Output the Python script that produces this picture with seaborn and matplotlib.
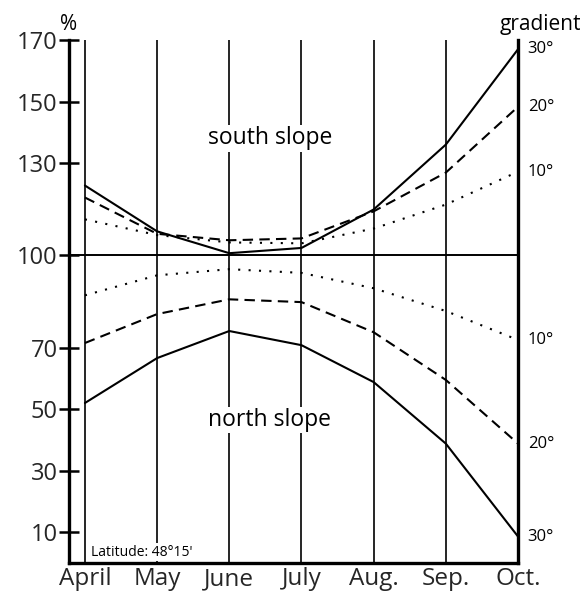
import numpy as np
import pandas as pd
import matplotlib
matplotlib.use("Agg")
import matplotlib.pyplot as plt
import seaborn as sns

# monthly radiation on slopes relative to flat ground (%), latitude 48°15'
months = ["April", "May", "June", "July", "Aug.", "Sep.", "Oct."]
south_30 = [122.7, 107.8, 100.7, 102.4, 114.9, 136.0, 167.0]
south_20 = [118.8, 107.0, 104.9, 105.5, 114.3, 126.9, 148.3]
south_10 = [111.7, 106.6, 104.2, 103.9, 108.7, 116.5, 127.2]
north_10 = [87.0, 93.5, 95.5, 94.3, 89.3, 81.9, 72.5]
north_20 = [71.5, 80.9, 85.7, 84.8, 75.0, 59.5, 38.8]
north_30 = [52.0, 66.6, 75.4, 70.8, 58.8, 38.8, 8.6]
yticks = [10, 30, 50, 70, 100, 130, 150, 170]

series = {
    ("south", 30): south_30, ("south", 20): south_20, ("south", 10): south_10,
    ("north", 10): north_10, ("north", 20): north_20, ("north", 30): north_30,
}
styles = {30: "-", 20: (0, (5, 3)), 10: (0, (1, 4))}

rows = []
for (slope, grad), vals in series.items():
    for i, v in enumerate(vals):
        rows.append({"slope": slope, "gradient": grad, "pos": i, "value": v})
df = pd.DataFrame(rows)

sns.set_style("white")
plt.rcParams["font.family"] = ["Open Sans", "DejaVu Sans"]
fig = plt.figure(figsize=(5.81, 5.96), dpi=100)
ax = fig.add_axes([0.1188, 0.0554, 0.7728, 0.8775])

for i in range(len(months) - 1):
    ax.axvline(i, color="black", lw=1.2, zorder=1)
ax.axhline(100, color="black", lw=1.4, zorder=1)

for (slope, grad), sub in df.groupby(["slope", "gradient"]):
    sns.lineplot(data=sub, x="pos", y="value", ax=ax, color="black",
                 lw=1.5, linestyle=styles[grad], zorder=3)

ax.set_xlim(-0.22, 6)
ax.set_ylim(0, 170)
ax.set_xticks(range(len(months)))
ax.set_xticklabels(months)
ax.set_yticks(yticks)
ax.set_xlabel("")
ax.set_ylabel("")
ax.tick_params(axis="x", bottom=False, length=0, pad=3, labelsize=17.5)
ax.tick_params(axis="y", left=True, direction="inout", length=14, width=1.8,
               color="black", pad=1, labelsize=17)
for s in ["left", "bottom", "right"]:
    ax.spines[s].set_linewidth(2.4)
    ax.spines[s].set_color("black")
ax.spines["top"].set_visible(False)

lab = dict(color="black")
ax.text(0.0, 1.01, "%", transform=ax.transAxes, ha="center", va="bottom", fontsize=15, **lab)
ax.text(1.05, 1.01, "gradient", transform=ax.transAxes, ha="center", va="bottom", fontsize=15, **lab)

for (slope, grad), vals in series.items():
    ax.annotate(f"{grad}°", (6, vals[-1]), xytext=(7, 0), textcoords="offset points",
                ha="left", va="center", fontsize=12, **lab)

box = dict(facecolor="white", edgecolor="none", pad=1)
ax.text(2.56, 138, "south slope", ha="center", va="center", fontsize=16.5, bbox=box, zorder=4, **lab)
ax.text(2.56, 46.5, "north slope", ha="center", va="center", fontsize=16.5, bbox=box, zorder=4, **lab)
ax.text(0.09, 3.5, "Latitude: 48°15'", ha="left", va="center", fontsize=10, bbox=box, zorder=4, **lab)

fig.savefig("out.png", dpi=100)
